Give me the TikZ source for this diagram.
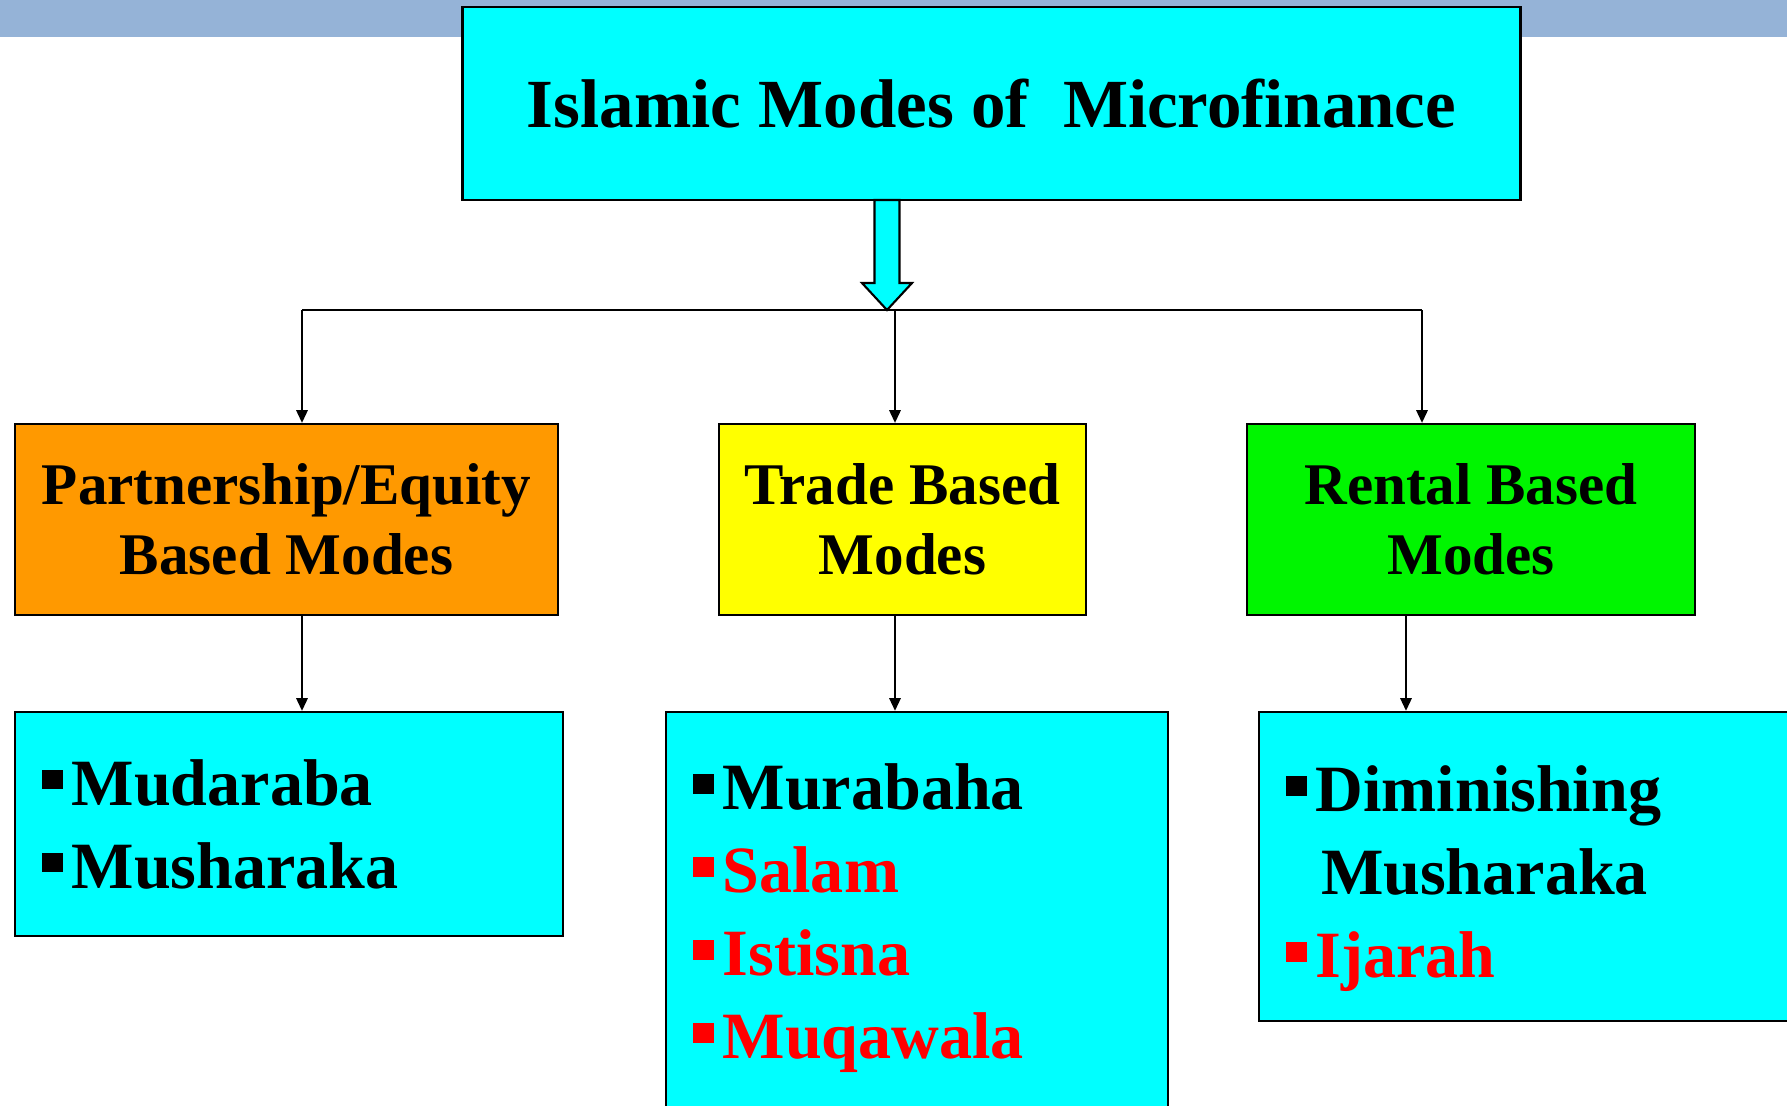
\documentclass[tikz,border=0pt]{standalone}
\usepackage{fontspec}
\setmainfont{Liberation Serif}
\usetikzlibrary{arrows.meta}
\definecolor{barblue}{RGB}{149,179,215}
\definecolor{boxcyan}{RGB}{0,255,255}
\definecolor{boxorange}{RGB}{255,153,0}
\definecolor{boxyellow}{RGB}{255,255,0}
\definecolor{boxgreen}{RGB}{0,245,0}
\newcommand{\mode}[2]{\textcolor{#1}{\rule[4.5pt]{6pt}{5.5pt}\hspace{2.5pt}#2}}
\begin{document}
\begin{tikzpicture}[x=0.01cm, y=-0.01cm, every node/.style={font=\bfseries},
  box/.style={draw, line width=0.6pt, align=center, minimum height=1.91cm,
    font=\fontsize{16.8}{19.9}\selectfont\bfseries},
  list/.style={draw, line width=0.6pt, fill=boxcyan, align=left, inner xsep=0.27cm,
    font=\fontsize{18.8}{23.6}\selectfont\bfseries},
  link/.style={line width=0.6pt, -{Triangle[length=3.6pt,width=3.2pt]}}]
\useasboundingbox (0,0) rectangle (1787,1105);
\clip (0,0) rectangle (1787,1105);
\fill[barblue] (0,0) rectangle (1787,37);
\node[draw, line width=0.8pt, fill=boxcyan, minimum width=10.57cm, minimum height=1.93cm,
  font=\fontsize{19.6}{24}\selectfont\bfseries] (title) at (991.5,103.5) {Islamic Modes of\ \ Microfinance};
\node[box, fill=boxorange, minimum width=5.43cm] (equity) at (286.5,519.5) {Partnership/Equity\\Based Modes};
\node[box, fill=boxyellow, minimum width=3.67cm] (trade) at (902.5,519.5) {Trade Based\\Modes};
\node[box, fill=boxgreen, minimum width=4.48cm] (rental) at (1471,519.5) {Rental Based\\Modes};
\node[list, text width=4.94cm, minimum height=2.24cm] (equitylist) at (289,824)
  {\mode{black}{Mudaraba}\\\mode{black}{Musharaka}};
\node[list, text width=4.48cm, minimum height=4.12cm] (tradelist) at (917,918)
  {\mode{black}{Murabaha}\\\mode{red}{Salam}\\\mode{red}{Istisna}\\\mode{red}{Muqawala}};
\node[list, text width=4.87cm, minimum height=3.09cm] (rentallist) at (1529.5,866.5)
  {\rule{0pt}{0.7cm}\mode{black}{Diminishing}\\\hspace*{10pt}Musharaka\\\mode{red}{Ijarah}};
\coordinate (tip) at (887,310);
\coordinate (left) at (302,310);
\coordinate (split) at (895,310);
\coordinate (right) at (1422,310);
\coordinate (rdrop) at (1406,310);
\draw[line width=0.6pt, fill=boxcyan] (tip) -- ++(-25,-27) -- ++(12.5,0) -- ++(0,-83)
  -- ++(25,0) -- ++(0,83) -- ++(12.5,0) -- cycle;
\draw[line width=0.6pt] (left) -- (right);
\draw[link] (left) -- (left |- equity.north);
\draw[link] (split) -- (split |- trade.north);
\draw[link] (right) -- (right |- rental.north);
\draw[link] (left |- equity.south) -- (left |- equitylist.north);
\draw[link] (split |- trade.south) -- (split |- tradelist.north);
\draw[link] (rdrop |- rental.south) -- (rdrop |- rentallist.north);
\end{tikzpicture}
\end{document}
